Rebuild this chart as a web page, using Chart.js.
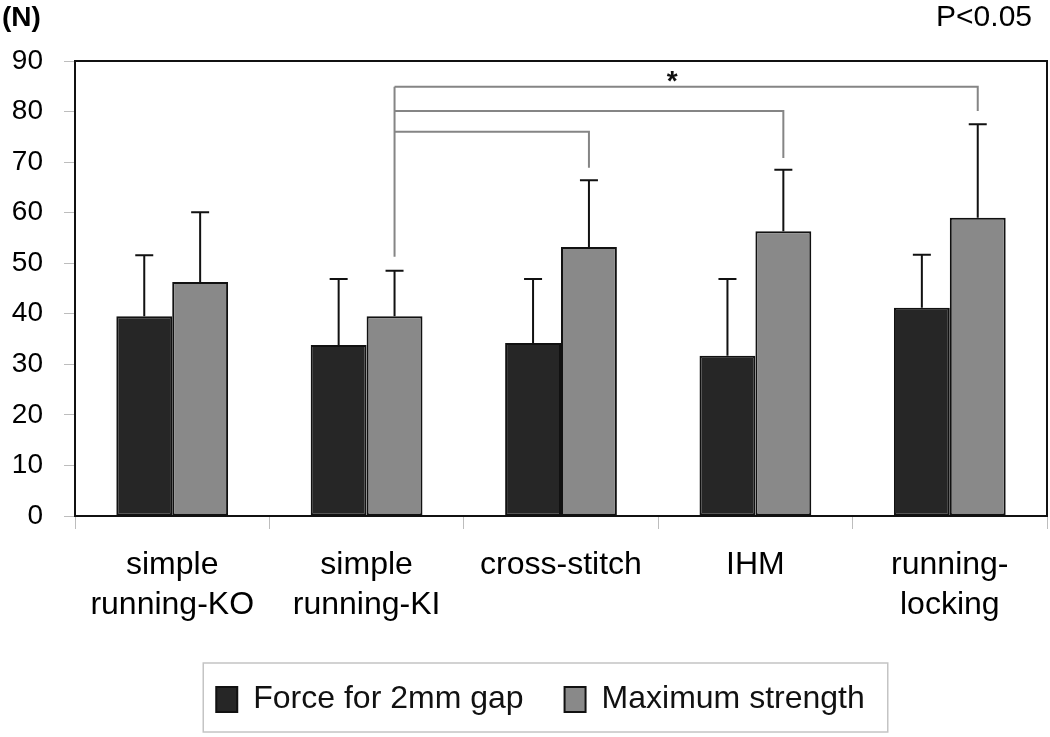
<!DOCTYPE html>
<html>
<head>
<meta charset="utf-8">
<title>Suture strength</title>
<script src="https://cdn.jsdelivr.net/npm/chart.js"></script>
<style>
  html, body { margin: 0; padding: 0; background: #fff; }
</style>
</head>
<body>
<canvas id="chart-bar" width="1050" height="737"></canvas>
<script>
var categories = [['simple', 'running-KO'], ['simple', 'running-KI'], 'cross-stitch', 'IHM', ['running-', 'locking']];
var forceGap = [39.5, 33.8, 34.2, 31.7, 41.2];
var forceGapSD = [12.1, 13.1, 12.7, 15.2, 10.5];
var maxStrength = [46.3, 39.5, 53.2, 56.3, 59.0];
var maxStrengthSD = [13.8, 9.0, 13.2, 12.2, 18.5];
var yMin = 0, yMax = 90, yStep = 10;

// significance brackets, all starting from simple running-KI (max strength)
var bracketFrom = 1;
var bracketFromLevel = 51.3;
var bracketTo = [2, 3, 4];
var bracketLevel = [76.0, 80.1, 84.9];
var bracketEnd = [68.9, 70.8, 80.1];
var starLevel = 86.8;

Chart.defaults.font.family = "'Liberation Sans', Arial, sans-serif";
Chart.defaults.color = '#000';

var extras = {
    id: 'extras',
    afterLayout: function(chart) {
        // legend in the original sits a bit right of centre
        chart.legend.left += 11;
        chart.legend.right += 11;
    },
    afterDatasetsDraw: function(chart) {
        var ctx = chart.ctx;
        var y = chart.scales.y;
        var a = chart.chartArea;

        // error bars (upper only)
        [forceGapSD, maxStrengthSD].forEach(function(sd, d) {
            var vals = chart.data.datasets[d].data;
            chart.getDatasetMeta(d).data.forEach(function(bar, i) {
                var top = y.getPixelForValue(vals[i] + sd[i]);
                ctx.save();
                ctx.strokeStyle = '#111';
                ctx.lineWidth = 2;
                ctx.beginPath();
                ctx.moveTo(bar.x, bar.y);
                ctx.lineTo(bar.x, top);
                ctx.moveTo(bar.x - 9, top);
                ctx.lineTo(bar.x + 9, top);
                ctx.stroke();
                ctx.restore();
            });
        });

        // brackets
        var bars = chart.getDatasetMeta(1).data;
        var x0 = bars[bracketFrom].x;
        var topLevel = Math.max.apply(null, bracketLevel);
        ctx.save();
        ctx.strokeStyle = '#858585';
        ctx.lineWidth = 2;
        ctx.beginPath();
        ctx.moveTo(x0, y.getPixelForValue(bracketFromLevel));
        ctx.lineTo(x0, y.getPixelForValue(topLevel));
        bracketTo.forEach(function(t, i) {
            var yy = y.getPixelForValue(bracketLevel[i]);
            ctx.moveTo(x0, yy);
            ctx.lineTo(bars[t].x, yy);
            ctx.lineTo(bars[t].x, y.getPixelForValue(bracketEnd[i]));
        });
        ctx.stroke();
        ctx.restore();

        // star over the widest bracket
        var last = bracketTo[bracketTo.length - 1];
        ctx.save();
        ctx.fillStyle = '#111';
        ctx.font = "bold 28px 'Liberation Sans', Arial";
        ctx.textAlign = 'center';
        ctx.textBaseline = 'middle';
        ctx.fillText('*', (x0 + bars[last].x) / 2 - 14, y.getPixelForValue(starLevel) + 5);
        ctx.restore();

        // top and right frame
        ctx.save();
        ctx.strokeStyle = '#111';
        ctx.lineWidth = 2;
        ctx.beginPath();
        ctx.moveTo(a.left, a.top);
        ctx.lineTo(a.right, a.top);
        ctx.lineTo(a.right, a.bottom);
        ctx.stroke();
        ctx.restore();
    },
    afterDraw: function(chart) {
        var ctx = chart.ctx;
        // unit and p value
        ctx.save();
        ctx.fillStyle = '#000';
        ctx.textBaseline = 'middle';
        ctx.font = "bold 28px 'Liberation Sans', Arial";
        ctx.textAlign = 'left';
        ctx.fillText('(N)', 2, 18);
        ctx.font = "30px 'Liberation Sans', Arial";
        ctx.textAlign = 'right';
        ctx.fillText('P<0.05', 1032, 18);
        ctx.restore();

        // box around legend
        var hb = chart.legend.legendHitBoxes;
        if (hb && hb.length) {
            var l = hb[0].left - 13;
            var r = hb[hb.length - 1].left + hb[hb.length - 1].width + 23;
            var t = hb[0].top - 20.5;
            var b = hb[0].top + 48.5;
            ctx.save();
            ctx.strokeStyle = '#c4c4c4';
            ctx.lineWidth = 1.5;
            ctx.strokeRect(l, t, r - l, b - t);
            ctx.restore();
        }
    }
};

var ctx = document.getElementById('chart-bar').getContext('2d');
var myChart = new Chart(ctx, {
    type: 'bar',
    data: {
        labels: categories,
        datasets: [{
            label: 'Force for 2mm gap',
            data: forceGap,
            backgroundColor: '#262626',
            borderColor: '#111',
            borderWidth: 2,
            borderSkipped: false
        },
        {
            label: 'Maximum strength',
            data: maxStrength,
            backgroundColor: '#898989',
            borderColor: '#111',
            borderWidth: 2,
            borderSkipped: false
        }]
    },
    options: {
        responsive: false,
        animation: false,
        layout: {
            padding: { top: 61, left: 12, right: 3, bottom: 11.5 }
        },
        datasets: {
            bar: { categoryPercentage: 0.575, barPercentage: 1 }
        },
        plugins: {
            tooltip: { enabled: false },
            legend: {
                position: 'bottom',
                labels: {
                    color: '#111',
                    font: { size: 32 },
                    boxWidth: 21,
                    boxHeight: 25,
                    padding: 41
                }
            }
        },
        scales: {
            x: {
                grid: { offset: true, drawOnChartArea: false, tickLength: 13, color: '#bdbdbd' },
                border: { display: true, color: '#111', width: 2 },
                ticks: { font: { size: 32, lineHeight: 1.25 }, color: '#000', padding: 16, maxRotation: 0, autoSkip: false },
                afterFit: function(scale) { scale.height = 126.5; }
            },
            y: {
                min: yMin,
                max: yMax,
                grid: { drawOnChartArea: false, tickLength: 11, color: '#bdbdbd' },
                border: { display: true, color: '#111', width: 2 },
                ticks: { stepSize: yStep, font: { size: 28 }, color: '#000', padding: 21 },
                afterFit: function(scale) { scale.width = 63; }
            }
        }
    },
    plugins: [extras]
});
</script>
</body>
</html>
